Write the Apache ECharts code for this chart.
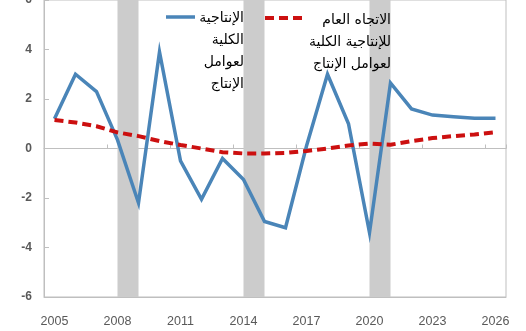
<!DOCTYPE html>
<html>
<head>
<meta charset="utf-8">
<script src="https://cdn.jsdelivr.net/npm/echarts@6/dist/echarts.min.js"></script>
<style>
  html, body { margin: 0; padding: 0; background: #fff; overflow: hidden; }
  #frame { position: relative; width: 526px; height: 331px; overflow: hidden; }
  /* the plot runs slightly past the top edge, so the canvas starts above the page */
  #chart { position: absolute; left: 0; top: -6px; width: 526px; height: 337px; }
</style>
</head>
<body>
<div id="frame"><div id="chart"></div></div>
<script>
// Years on the category axis
const years = ['2005','2006','2007','2008','2009','2010','2011','2012','2013','2014','2015',
               '2016','2017','2018','2019','2020','2021','2022','2023','2024','2025','2026'];

// Total factor productivity growth (%)
const tfp = [1.2, 3.0, 2.3, 0.35, -2.2, 3.9, -0.5, -2.05, -0.4, -1.25, -2.95,
             -3.2, 0.1, 3.0, 1.0, -3.4, 2.65, 1.6, 1.35, 1.28, 1.22, 1.22];

// Trend of total factor productivity (%)
const tfpTrend = [1.15, 1.05, 0.9, 0.65, 0.5, 0.3, 0.14, 0.0, -0.15, -0.2, -0.2,
                  -0.18, -0.1, 0.0, 0.12, 0.2, 0.15, 0.3, 0.42, 0.5, 0.57, 0.66];

// Shaded periods (start year, end year)
const shadedPeriods = [['2008', '2009'], ['2014', '2015'], ['2020', '2021']];

// Y axis range
const yMin = -6, yMax = 6, yStep = 2;

// Legend labels
const tfpName = 'الإنتاجية الكلية لعوامل الإنتاج';
const trendName = 'الاتجاه العام للإنتاجية الكلية لعوامل الإنتاج';
const tfpLegendText = 'الإنتاجية\nالكلية\nلعوامل\nالإنتاج';
const trendLegendText = 'الاتجاه العام\nللإنتاجية الكلية\nلعوامل الإنتاج';

const chart = echarts.init(document.getElementById('chart'), null, { renderer: 'canvas' });

const axisGray = '#bfbfbf';
const labelGray = '#595959';
const blue = '#4a85b8';
const red = '#cc1010';
const legendFont = '"DejaVu Sans", Arial, sans-serif';
const dy = 6; // canvas offset above the page

chart.setOption({
  animation: false,
  backgroundColor: '#ffffff',
  grid: {
    left: 44, right: 20, top: 0, bottom: 34,
    show: true, borderColor: axisGray, borderWidth: 1, backgroundColor: 'transparent'
  },
  xAxis: [
    {
      type: 'category',
      data: years,
      position: 'bottom',
      boundaryGap: true,
      axisLine: { onZero: false, lineStyle: { color: axisGray, width: 1 } },
      axisTick: { show: false },
      axisLabel: {
        interval: 2, margin: 18, color: labelGray,
        fontSize: 12.5, fontFamily: '"Liberation Sans Narrow", "Liberation Sans", Arial, sans-serif'
      },
      splitLine: { show: false }
    },
    {
      type: 'category',
      data: years,
      position: 'bottom',
      boundaryGap: true,
      axisLine: { onZero: true, lineStyle: { color: axisGray, width: 1 } },
      axisTick: { show: true, inside: true, length: 4, interval: 2, lineStyle: { color: axisGray } },
      axisLabel: { show: false },
      splitLine: { show: false }
    }
  ],
  yAxis: {
    type: 'value',
    min: yMin, max: yMax, interval: yStep,
    axisLine: { show: true, lineStyle: { color: axisGray, width: 1 } },
    axisTick: { show: true, inside: true, length: 5, lineStyle: { color: axisGray } },
    axisLabel: {
      margin: 12, color: labelGray, fontSize: 12, fontWeight: 'bold',
      fontFamily: '"Liberation Sans", Arial, sans-serif'
    },
    splitLine: { show: false }
  },
  series: [
    {
      name: tfpName,
      type: 'line',
      xAxisIndex: 0,
      data: tfp,
      symbol: 'none',
      lineStyle: { color: blue, width: 3.5, join: 'miter' },
      z: 3,
      markArea: {
        silent: true,
        itemStyle: { color: '#cccccc' },
        data: shadedPeriods.map(p => [{ xAxis: p[0], yAxis: yMax }, { xAxis: p[1], yAxis: yMin }])
      }
    },
    {
      name: trendName,
      type: 'line',
      xAxisIndex: 0,
      data: tfpTrend,
      symbol: 'none',
      lineStyle: { color: red, width: 4, type: [9, 5], cap: 'butt' },
      z: 4
    }
  ],
  graphic: [
    {
      type: 'line', z: 10,
      shape: { x1: 166, y1: 17 + dy, x2: 195, y2: 17 + dy },
      style: { stroke: blue, lineWidth: 3.5 }
    },
    {
      type: 'text', z: 10, x: 244, y: 7 + dy,
      style: {
        text: tfpLegendText, align: 'right', verticalAlign: 'top',
        font: '14px ' + legendFont, lineHeight: 22, fill: '#000'
      }
    },
    {
      type: 'line', z: 10,
      shape: { x1: 265, y1: 18 + dy, x2: 303, y2: 18 + dy },
      style: { stroke: red, lineWidth: 4, lineDash: [9, 5] }
    },
    {
      type: 'text', z: 10, x: 391, y: 9 + dy,
      style: {
        text: trendLegendText, align: 'right', verticalAlign: 'top',
        font: '14px ' + legendFont, lineHeight: 22, fill: '#000'
      }
    }
  ]
});
</script>
</body>
</html>
